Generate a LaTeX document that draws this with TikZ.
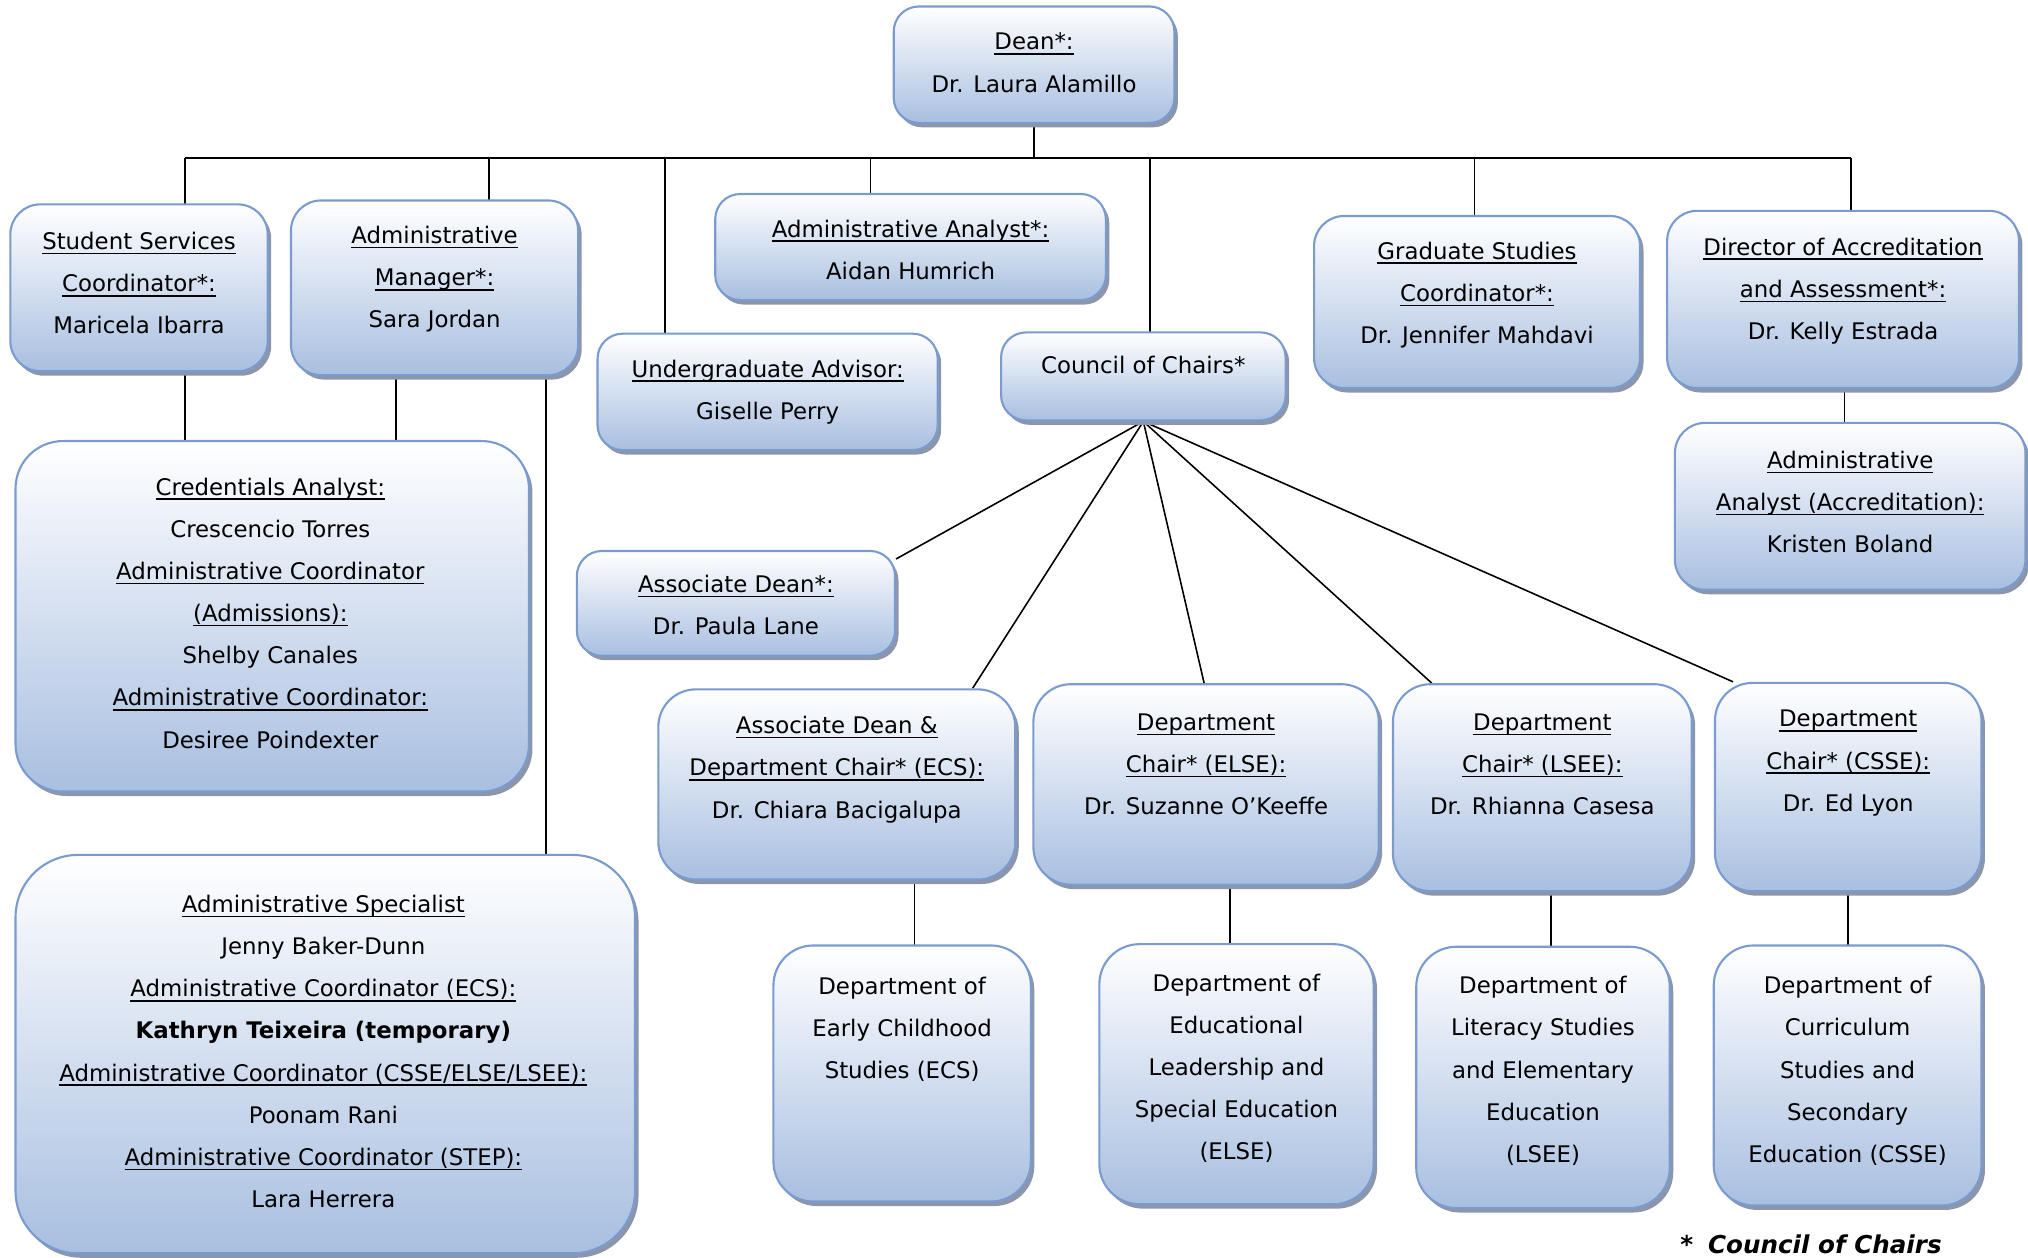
\documentclass[tikz,border=0pt]{standalone}
\usepackage{fontspec}
\setmainfont{DejaVu Sans}[ItalicFont=DejaVu Sans Oblique, BoldFont=DejaVu Sans Bold, BoldItalicFont=DejaVu Sans Bold Oblique]
\usepackage{tikz}
\usetikzlibrary{positioning, calc}
\usetikzlibrary{shadows, backgrounds}
\newsavebox{\ulbox}
\newcommand{\uline}[1]{\sbox{\ulbox}{#1}\rlap{\rule[-2.7pt]{\wd\ulbox}{0.8pt}}\usebox{\ulbox}}
\definecolor{boxline}{RGB}{122,155,208}
\definecolor{boxbot}{RGB}{168,191,224}
\definecolor{boxmid}{RGB}{212,223,240}
\definecolor{boxshadow}{RGB}{140,150,168}
\tikzstyle{unit}=[rectangle,rounded corners=0.5cm,draw=boxline,line width=1.2pt,
top color=white,bottom color=boxbot,middle color=boxmid,inner sep=0pt,
drop shadow={shadow xshift=0.07cm,shadow yshift=-0.09cm,fill=boxshadow,opacity=1}]
\tikzstyle{lines}=[align=center,inner sep=0pt,font=\fontsize{13}{24}\selectfont]
\tikzstyle{link}=[black,line width=0.9pt]
\def \px {0.025868cm}
\tikzset{
    wh/.style 2 args={
        minimum width=#1*\px, minimum height=#2*\px
    }
}

\begin{document}
\begin{tikzpicture}[x=\px,y=-\px]
        \useasboundingbox (0,0) rectangle (1568,972);

        % top row
        \node[unit, wh={217}{90},
            label={[lines, yshift=1.5*\px]center:{\uline{Dean*:}\\Dr. Laura Alamillo}}] (dean) at (799.5,50) {};
        \node[unit, wh={199}{129}, rounded corners=0.6cm,
            label={[lines, yshift=3.5*\px]center:{\uline{Student Services}\\\uline{Coordinator*:}\\Maricela Ibarra}}] (ssc) at (107.5,222.5) {};
        \node[unit, wh={222}{135}, rounded corners=0.6cm,
            label={[lines, yshift=6.5*\px]center:{\uline{Administrative}\\\uline{Manager*:}\\Sara Jordan}}] (amgr) at (336,222.5) {};
        \node[unit, wh={302}{82},
            label={[lines, yshift=-2*\px]center:{\uline{Administrative Analyst*:}\\Aidan Humrich}}] (aan) at (704,191) {};
        \node[unit, wh={263}{90},
            label={[lines]center:{\uline{Undergraduate Advisor:}\\Giselle Perry}}] (uga) at (593.5,303) {};
        \node[unit, wh={220}{68},
            label={[lines, yshift=9*\px]center:{Council of Chairs*}}] (coc) at (884,291) {};
        \node[unit, wh={252}{133}, rounded corners=0.6cm,
            label={[lines, yshift=5.5*\px]center:{\uline{Graduate Studies}\\\uline{Coordinator*:}\\Dr. Jennifer Mahdavi}}] (gsc) at (1142,233.5) {};
        \node[unit, wh={272}{137}, rounded corners=0.6cm,
            label={[lines, yshift=6.5*\px]center:{\uline{Director of Accreditation}\\\uline{and Assessment*:}\\Dr. Kelly Estrada}}] (dir) at (1425,231.5) {};
        \node[unit, wh={271}{129}, rounded corners=0.6cm,
            label={[lines, yshift=3.5*\px]center:{\uline{Administrative}\\\uline{Analyst (Accreditation):}\\Kristen Boland}}] (aaa) at (1430.5,391.5) {};

        % staff on the left
        \node[unit, wh={397}{271}, rounded corners=0.95cm,
            label={[lines, yshift=2.5*\px, xshift=-1.5*\px]center:{\uline{Credentials Analyst:}\\Crescencio Torres\\
            \uline{Administrative Coordinator}\\\uline{(Admissions):}\\Shelby Canales\\
            \uline{Administrative Coordinator:}\\Desiree Poindexter}}] (cred) at (210.5,476.5) {};
        \node[unit, wh={479}{308}, rounded corners=1.25cm,
            label={[lines, yshift=2*\px, xshift=-1.5*\px]center:{\uline{Administrative Specialist}\\Jenny Baker-Dunn\\
            \uline{Administrative Coordinator (ECS):}\\\textbf{Kathryn Teixeira (temporary)}\\
            \uline{Administrative Coordinator (CSSE/ELSE/LSEE):}\\Poonam Rani\\
            \uline{Administrative Coordinator (STEP):}\\Lara Herrera}}] (spec) at (251.5,815) {};

        % council of chairs
        \node[unit, wh={246}{81},
            label={[lines, yshift=-1.5*\px]center:{\uline{Associate Dean*:}\\Dr. Paula Lane}}] (adean) at (569,466.5) {};
        \node[unit, wh={276}{147}, rounded corners=0.75cm,
            label={[lines, yshift=11.5*\px]center:{\uline{Associate Dean \&}\\\uline{Department Chair* (ECS):}\\Dr. Chiara Bacigalupa}}] (chairecs) at (647,606.5) {};
        \node[unit, wh={267}{155}, rounded corners=0.75cm,
            label={[lines, yshift=15.5*\px]center:{\uline{Department}\\\uline{Chair* (ELSE):}\\Dr. Suzanne O’Keeffe}}] (chairelse) at (932.5,606.5) {};
        \node[unit, wh={231}{160}, rounded corners=0.75cm,
            label={[lines, yshift=18*\px]center:{\uline{Department}\\\uline{Chair* (LSEE):}\\Dr. Rhianna Casesa}}] (chairlsee) at (1192.5,609) {};
        \node[unit, wh={206}{161}, rounded corners=0.75cm,
            label={[lines, yshift=18.5*\px]center:{\uline{Department}\\\uline{Chair* (CSSE):}\\Dr. Ed Lyon}}] (chaircsse) at (1429,608.5) {};

        % departments
        \node[unit, wh={199}{198}, rounded corners=0.8cm,
            label={[lines, yshift=34*\px]center:{Department of\\Early Childhood\\Studies (ECS)}}] (deptecs) at (697.5,830) {};
        \node[unit, wh={212}{201}, rounded corners=0.8cm,
            label={[lines, yshift=4.5*\px]center:{Department of\\Educational\\Leadership and\\Special Education\\(ELSE)}}] (deptelse) at (956,830.5) {};
        \node[unit, wh={196}{202}, rounded corners=0.8cm,
            label={[lines, yshift=5*\px]center:{Department of\\Literacy Studies\\and Elementary\\Education\\(LSEE)}}] (deptlsee) at (1193,833) {};
        \node[unit, wh={207}{201}, rounded corners=0.8cm,
            label={[lines, yshift=3.5*\px]center:{Department of\\Curriculum\\Studies and\\Secondary\\Education (CSSE)}}] (deptcsse) at (1428.5,831.5) {};

        \node[anchor=west, inner sep=0pt, font=\fontsize{14}{16}\selectfont\bfseries\itshape]
            (note) at (1299,962) {*\hspace{0.6em}Council of Chairs};

        \begin{scope}[on background layer]
            \coordinate (b-ssc) at (143,122);
            \coordinate (b-amgr) at (378,122);
            \coordinate (b-uga) at (514,122);
            \coordinate (b-aan) at (673,122);
            \coordinate (b-coc) at (889,122);
            \coordinate (b-gsc) at (1140,122);
            \coordinate (b-dir) at (1431,122);
            \draw[link] (b-ssc) -- (b-dir);
            \draw[link] (dean) -- (dean |- b-ssc);
            \foreach \n in {ssc, amgr, uga, aan, coc, gsc, dir}
                \draw[link] (b-\n) -- (b-\n |- \n.center);

            \coordinate (k-cred) at (306,0);
            \coordinate (k-spec) at (422,0);
            \coordinate (k-aaa) at (1426,0);
            \draw[link] (b-ssc |- ssc.center) -- (b-ssc |- cred.center);
            \draw[link] (k-cred |- amgr.center) -- (k-cred |- cred.center);
            \draw[link] (k-spec |- amgr.center) -- (k-spec |- spec.center);
            \draw[link] (k-aaa |- dir.center) -- (k-aaa |- aaa.center);

            \foreach \a/\b/\x in {ecs/ecs/707, else/else/951, lsee/lsee/1199, csse/csse/1429} {
                \coordinate (k) at (\x,0);
                \draw[link] (k |- chair\a.center) -- (k |- dept\b.center);
            }

            \draw[link] (coc.south) -- ($(adean.north east)+(0,7)$);
            \draw[link] (coc.south) -- ($(chairecs.north)+(105,0)$);
            \draw[link] (coc.south) -- ($(chairelse.north)+(-1.5,0)$);
            \draw[link] (coc.south) -- ($(chairlsee.north)+(-85.5,0)$);
            \draw[link] (coc.south) -- ($(chaircsse.north)+(-89,0)$);
        \end{scope}
    \end{tikzpicture}
\end{document}
